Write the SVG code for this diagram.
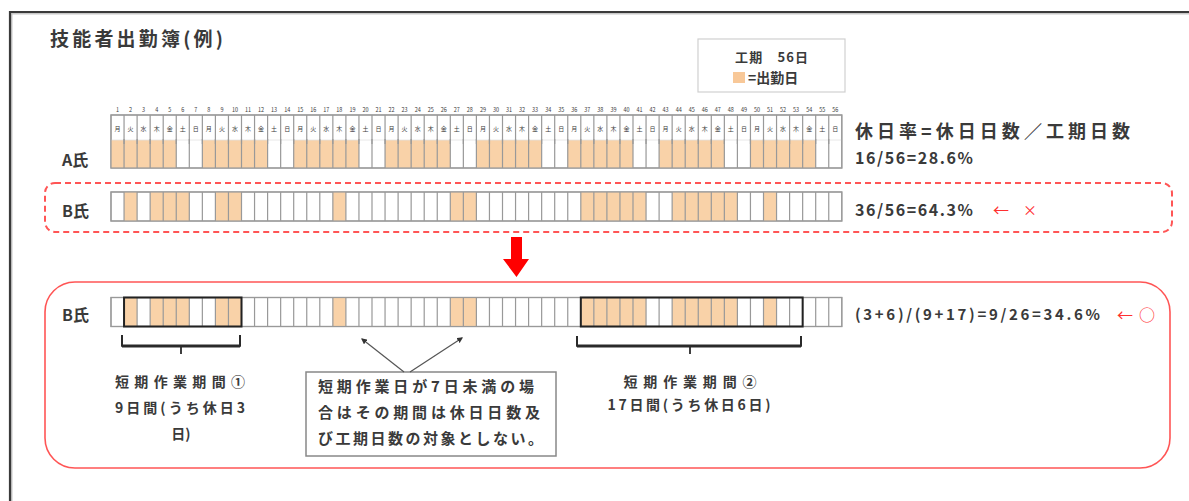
<svg xmlns="http://www.w3.org/2000/svg" xmlns:xlink="http://www.w3.org/1999/xlink" width="1189" height="501" viewBox="0 0 1189 501">
<style>
.t{font-family:"Noto Sans CJK JP","Noto Sans CJK SC",sans-serif;fill:#3a3a3a;font-weight:bold}
.n{font-weight:normal}
.row{fill:#fff;stroke:#999;stroke-width:1.2}
.work{fill:#F9D2A8}
.vl{stroke:#999;stroke-width:1.2;fill:none}
.red{fill:#FF3030;font-family:"Noto Sans CJK JP",sans-serif}
.brace{fill:none;stroke:#2a2a2a;stroke-linejoin:round}
.period{fill:none;stroke:#222;stroke-width:2}
.ptr{stroke:#555;stroke-width:1.2;fill:none;marker-end:url(#dot)}
</style>
<defs>
<path id="vl" class="vl" d="M124.05 0v29M137.1 0v29M150.15 0v29M163.2 0v29M176.25 0v29M189.3 0v29M202.35 0v29M215.4 0v29M228.45 0v29M241.5 0v29M254.55 0v29M267.6 0v29M280.65 0v29M293.7 0v29M306.75 0v29M319.8 0v29M332.85 0v29M345.9 0v29M358.95 0v29M372 0v29M385.05 0v29M398.1 0v29M411.15 0v29M424.2 0v29M437.25 0v29M450.3 0v29M463.35 0v29M476.4 0v29M489.45 0v29M502.5 0v29M515.55 0v29M528.6 0v29M541.65 0v29M554.7 0v29M567.75 0v29M580.8 0v29M593.85 0v29M606.9 0v29M619.95 0v29M633 0v29M646.05 0v29M659.1 0v29M672.15 0v29M685.2 0v29M698.25 0v29M711.3 0v29M724.35 0v29M737.4 0v29M750.45 0v29M763.5 0v29M776.55 0v29M789.6 0v29M802.65 0v29M815.7 0v29M828.75 0v29"/>
<g id="bwork">
<rect class="work" x="124.05" y="0" width="13.05" height="29"/>
<rect class="work" x="150.15" y="0" width="39.15" height="29"/>
<rect class="work" x="215.4" y="0" width="26.1" height="29"/>
<rect class="work" x="332.85" y="0" width="13.05" height="29"/>
<rect class="work" x="450.3" y="0" width="26.1" height="29"/>
<rect class="work" x="580.8" y="0" width="65.25" height="29"/>
<rect class="work" x="672.15" y="0" width="65.25" height="29"/>
<rect class="work" x="763.5" y="0" width="13.05" height="29"/>
</g>
<marker id="dot" viewBox="0 0 10 10" refX="8" refY="5" markerWidth="5" markerHeight="5" orient="auto"><path d="M0 0L10 5L0 10z" fill="#333"/></marker>
</defs>
<rect width="1189" height="501" fill="#fff"/>
<g id="frame">
<path d="M11.5 503V13.5H1192" fill="none" stroke="#c8c8c8" stroke-width="2"/>
<path d="M10 503V12H1192" fill="none" stroke="#3a3a3a" stroke-width="2.2"/>
</g>
<g id="title"><text class="t" x="50" y="46" font-size="19" textLength="173" lengthAdjust="spacing">技能者出勤簿(例)</text></g>
<g id="legend">
<rect x="698" y="39" width="147" height="53" fill="#fff" stroke="#d0d0d0" stroke-width="1.2"/>
<text class="t" x="735" y="62" font-size="13" textLength="73" lengthAdjust="spacing">工期　56日</text>
<rect x="733" y="72" width="12" height="11" fill="#F8C898"/>
<text class="t" x="748" y="83" font-size="14">=出勤日</text>
</g>
<g id="rowA">
<text class="t n" font-size="5.5" y="112" text-anchor="middle" fill="#555"><tspan x="117.53">1</tspan><tspan x="130.58">2</tspan><tspan x="143.63">3</tspan><tspan x="156.68">4</tspan><tspan x="169.73">5</tspan><tspan x="182.78">6</tspan><tspan x="195.83">7</tspan><tspan x="208.88">8</tspan><tspan x="221.93">9</tspan><tspan x="234.98">10</tspan><tspan x="248.03">11</tspan><tspan x="261.08">12</tspan><tspan x="274.13">13</tspan><tspan x="287.18">14</tspan><tspan x="300.23">15</tspan><tspan x="313.28">16</tspan><tspan x="326.33">17</tspan><tspan x="339.38">18</tspan><tspan x="352.43">19</tspan><tspan x="365.48">20</tspan><tspan x="378.53">21</tspan><tspan x="391.58">22</tspan><tspan x="404.63">23</tspan><tspan x="417.68">24</tspan><tspan x="430.73">25</tspan><tspan x="443.78">26</tspan><tspan x="456.83">27</tspan><tspan x="469.88">28</tspan><tspan x="482.93">29</tspan><tspan x="495.98">30</tspan><tspan x="509.03">31</tspan><tspan x="522.08">32</tspan><tspan x="535.13">33</tspan><tspan x="548.18">34</tspan><tspan x="561.23">35</tspan><tspan x="574.28">36</tspan><tspan x="587.33">37</tspan><tspan x="600.38">38</tspan><tspan x="613.43">39</tspan><tspan x="626.48">40</tspan><tspan x="639.53">41</tspan><tspan x="652.58">42</tspan><tspan x="665.63">43</tspan><tspan x="678.68">44</tspan><tspan x="691.73">45</tspan><tspan x="704.78">46</tspan><tspan x="717.83">47</tspan><tspan x="730.88">48</tspan><tspan x="743.93">49</tspan><tspan x="756.98">50</tspan><tspan x="770.03">51</tspan><tspan x="783.08">52</tspan><tspan x="796.13">53</tspan><tspan x="809.18">54</tspan><tspan x="822.23">55</tspan><tspan x="835.28">56</tspan></text>
<rect class="row" x="111" y="115" width="730.8" height="53"/>
<rect class="work" x="111" y="140" width="65.25" height="28"/>
<rect class="work" x="202.35" y="140" width="65.25" height="28"/>
<rect class="work" x="293.7" y="140" width="65.25" height="28"/>
<rect class="work" x="385.05" y="140" width="65.25" height="28"/>
<rect class="work" x="476.4" y="140" width="65.25" height="28"/>
<rect class="work" x="567.75" y="140" width="65.25" height="28"/>
<rect class="work" x="659.1" y="140" width="65.25" height="28"/>
<rect class="work" x="750.45" y="140" width="65.25" height="28"/>
<line x1="111" y1="140" x2="841.8" y2="140" stroke="#e2e2e2" stroke-width="0.8"/>
<use href="#vl" xlink:href="#vl" transform="translate(0,115)"/>
<use href="#vl" xlink:href="#vl" transform="translate(0,139)"/>
<rect x="111" y="115" width="730.8" height="53" fill="none" stroke="#999" stroke-width="1.2"/>
<text class="t n" font-size="6" y="131" text-anchor="middle" fill="#555" x="117.53 130.58 143.63 156.68 169.73 182.78 195.83 208.88 221.93 234.98 248.03 261.08 274.13 287.18 300.23 313.28 326.33 339.38 352.43 365.48 378.53 391.58 404.63 417.68 430.73 443.78 456.83 469.88 482.93 495.98 509.03 522.08 535.13 548.18 561.23 574.28 587.33 600.38 613.43 626.48 639.53 652.58 665.63 678.68 691.73 704.78 717.83 730.88 743.93 756.98 770.03 783.08 796.13 809.18 822.23 835.28">月火水木金土日月火水木金土日月火水木金土日月火水木金土日月火水木金土日月火水木金土日月火水木金土日月火水木金土日</text>
<text class="t" x="62" y="166" font-size="16">A氏</text>
<text class="t" x="855" y="138" font-size="18" textLength="275" lengthAdjust="spacing">休日率=休日日数／工期日数</text>
<text class="t" x="855" y="164" font-size="16" textLength="118" lengthAdjust="spacing">16/56=28.6%</text>
</g>
<g id="rowB-before">
<rect x="45" y="183" width="1127" height="49" rx="10" fill="none" stroke="#FF5555" stroke-width="2" stroke-dasharray="6 4"/>
<rect class="row" x="111" y="192" width="730.8" height="29"/>
<use href="#bwork" xlink:href="#bwork" transform="translate(0,192)"/>
<use href="#vl" xlink:href="#vl" transform="translate(0,192)"/>
<rect x="111" y="192" width="730.8" height="29" fill="none" stroke="#999" stroke-width="1.2"/>
<text class="t" x="62" y="217" font-size="16">B氏</text>
<text class="t" x="855" y="216" font-size="16" textLength="118" lengthAdjust="spacing">36/56=64.3%</text>
<text class="red" x="993" y="216" font-size="16">←</text>
<text class="red" x="1023" y="215" font-size="14">×</text>
</g>
<g id="rowB-after">
<rect x="45" y="282" width="1125" height="186" rx="30" fill="none" stroke="#FF5555" stroke-width="1.6"/>
<rect class="row" x="111" y="297.5" width="730.8" height="29"/>
<use href="#bwork" xlink:href="#bwork" transform="translate(0,297.5)"/>
<use href="#vl" xlink:href="#vl" transform="translate(0,297.5)"/>
<rect x="111" y="297.5" width="730.8" height="29" fill="none" stroke="#999" stroke-width="1.2"/>
<rect class="period" x="124.05" y="297.5" width="117.45" height="29"/>
<rect class="period" x="580.8" y="297.5" width="221.85" height="29"/>
<text class="t" x="62" y="321" font-size="16">B氏</text>
<text class="t" x="855" y="320" font-size="15" textLength="245" lengthAdjust="spacing">(3+6)/(9+17)=9/26=34.6%</text>
<text class="red" x="1117" y="321" font-size="16">←</text>
<text class="red" x="1139" y="321" font-size="16">○</text>
</g>
<g id="period1">
<path class="brace" d="M122 335V346H240V335" stroke-width="2"/>
<path class="brace" d="M122 346H240" stroke-width="3"/>
<path class="brace" d="M181 346V354" stroke-width="1.8"/>
<text class="t" x="180" y="387" font-size="14" text-anchor="middle" textLength="130" lengthAdjust="spacing">短期作業期間①</text>
<text class="t" x="180" y="413" font-size="14" text-anchor="middle" textLength="130" lengthAdjust="spacing">9日間(うち休日3</text>
<text class="t" x="181" y="439" font-size="14" text-anchor="middle">日)</text>
</g>
<g id="period2">
<path class="brace" d="M577 336V346H801V336" stroke-width="2"/>
<path class="brace" d="M577 346H801" stroke-width="3"/>
<path class="brace" d="M690 346V354" stroke-width="1.8"/>
<text class="t" x="690" y="387" font-size="14" text-anchor="middle" textLength="133" lengthAdjust="spacing">短期作業期間②</text>
<text class="t" x="689" y="410" font-size="14" text-anchor="middle" textLength="163" lengthAdjust="spacing">17日間(うち休日6日)</text>
</g>
<g id="callout">
<rect x="306" y="372" width="250" height="84" fill="#fff" stroke="#888" stroke-width="1.5"/>
<text class="t" x="318" y="392" font-size="15" textLength="216" lengthAdjust="spacing">短期作業日が7日未満の場</text>
<text class="t" x="318" y="418" font-size="15" textLength="222" lengthAdjust="spacing">合はその期間は休日日数及</text>
<text class="t" x="318" y="444" font-size="15" textLength="225" lengthAdjust="spacing">び工期日数の対象としない。</text>
</g>
<g id="connectors">
<path class="ptr" d="M404 372L362 339"/>
<path class="ptr" d="M410 372L462 338"/>
<polygon points="511,237 522,237 522,259 529,259 516.5,277 503,259 511,259" fill="#FF0000"/>
</g>
</svg>
